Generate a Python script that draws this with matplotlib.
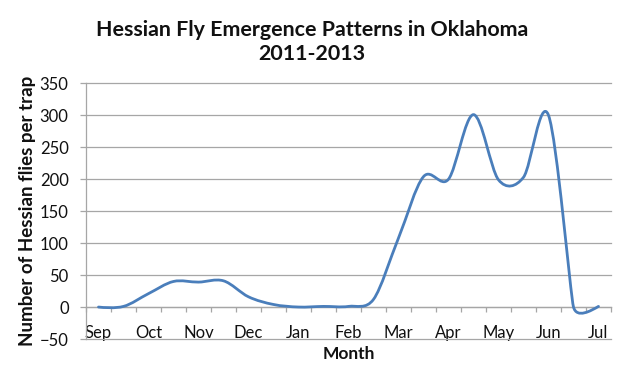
import matplotlib.pyplot as plt
import numpy as np
from matplotlib.path import Path
from matplotlib.patches import PathPatch

# semi-monthly trap counts, Sep through Jul (21 readings)
flies = [0, 1, 21, 40, 39, 41, 16, 4, 0, 1, 1, 12, 108, 204, 200, 301, 199, 203, 300, 0, 1]
month_labels = ['Sep', 'Oct', 'Nov', 'Dec', 'Jan', 'Feb', 'Mar', 'Apr', 'May', 'Jun', 'Jul']
y_ticks = [-50, 0, 50, 100, 150, 200, 250, 300, 350]

plt.rcParams['font.family'] = ['Lato', 'DejaVu Sans']
grid_col = '#a6a6a6'
text_col = '#111111'
line_col = '#4a7ebb'

fig = plt.figure(figsize=(6.24, 3.77), dpi=100)
ax = fig.add_axes([86 / 624, 1 - 339 / 377, 525 / 624, (339 - 83.3) / 377])
x = np.arange(len(flies))
ax.set_xlim(-0.5, len(flies) - 0.5)
ax.set_ylim(-50, 350)

# Excel style smoothed line: cubic Bezier, control points worked out in pixel space
pts = ax.transData.transform(np.column_stack([x, flies]))
n = len(pts)
c_in = pts.copy()
c_out = pts.copy()
for i in range(1, n - 1):
    p0, p1, p2 = pts[i - 1], pts[i], pts[i + 1]
    d01 = np.hypot(*(p1 - p0))
    d12 = np.hypot(*(p2 - p1))
    d02 = np.hypot(*(p2 - p0))
    f = min(1 / 6, d01 / (2 * d02), d12 / (2 * d02))
    c_out[i] = p1 + f * (p2 - p0)
    c_in[i] = p1 - f * (p2 - p0)
c_out[0] = pts[0] + (c_in[1] - pts[0]) / 3
c_in[-1] = pts[-1] + (c_out[-2] - pts[-1]) / 3

verts = [pts[0]]
codes = [Path.MOVETO]
for i in range(n - 1):
    verts += [c_out[i], c_in[i + 1], pts[i + 1]]
    codes += [Path.CURVE4] * 3
verts = ax.transData.inverted().transform(np.array(verts))
ax.add_patch(PathPatch(Path(verts, codes), fill=False, edgecolor=line_col,
                       lw=2.0, capstyle='round', joinstyle='round', zorder=3))

# y axis and gridlines
ax.set_yticks(y_ticks)
ax.yaxis.grid(True, color=grid_col, lw=0.9)
for gl in ax.get_ygridlines():
    gl.set_clip_on(False)
ax.tick_params(axis='y', direction='out', length=4.5, width=0.9, color=grid_col,
               labelsize=12, labelcolor=text_col, pad=8)
ax.set_ylabel('Number of Hessian flies per trap', fontsize=13.5, fontweight='bold',
              color=text_col, labelpad=3)

# x axis crosses at zero, ticks between categories
for s in ['top', 'right']:
    ax.spines[s].set_visible(False)
ax.spines['left'].set_color(grid_col)
ax.spines['left'].set_linewidth(0.9)
ax.spines['bottom'].set_position(('data', 0))
ax.spines['bottom'].set_color(grid_col)
ax.spines['bottom'].set_linewidth(0.9)
ax.set_xticks(x[::2])
ax.set_xticklabels(month_labels)
ax.set_xticks(np.arange(-0.5, len(flies)), minor=True)
ax.tick_params(axis='x', which='major', length=0, labelsize=12, labelcolor=text_col, pad=13)
ax.tick_params(axis='x', which='minor', direction='out', length=3.8, width=0.9, color=grid_col)
ax.text(0.5, -0.057, 'Month', transform=ax.transAxes, ha='center', va='center',
        fontsize=12.5, fontweight='bold', color=text_col)

fig.text(0.5, 0.948, 'Hessian Fly Emergence Patterns in Oklahoma\n2011-2013', ha='center',
         va='top', fontsize=15.4, fontweight='bold', color=text_col, linespacing=1.3)

fig.savefig('out.png', dpi=100, facecolor='white')
